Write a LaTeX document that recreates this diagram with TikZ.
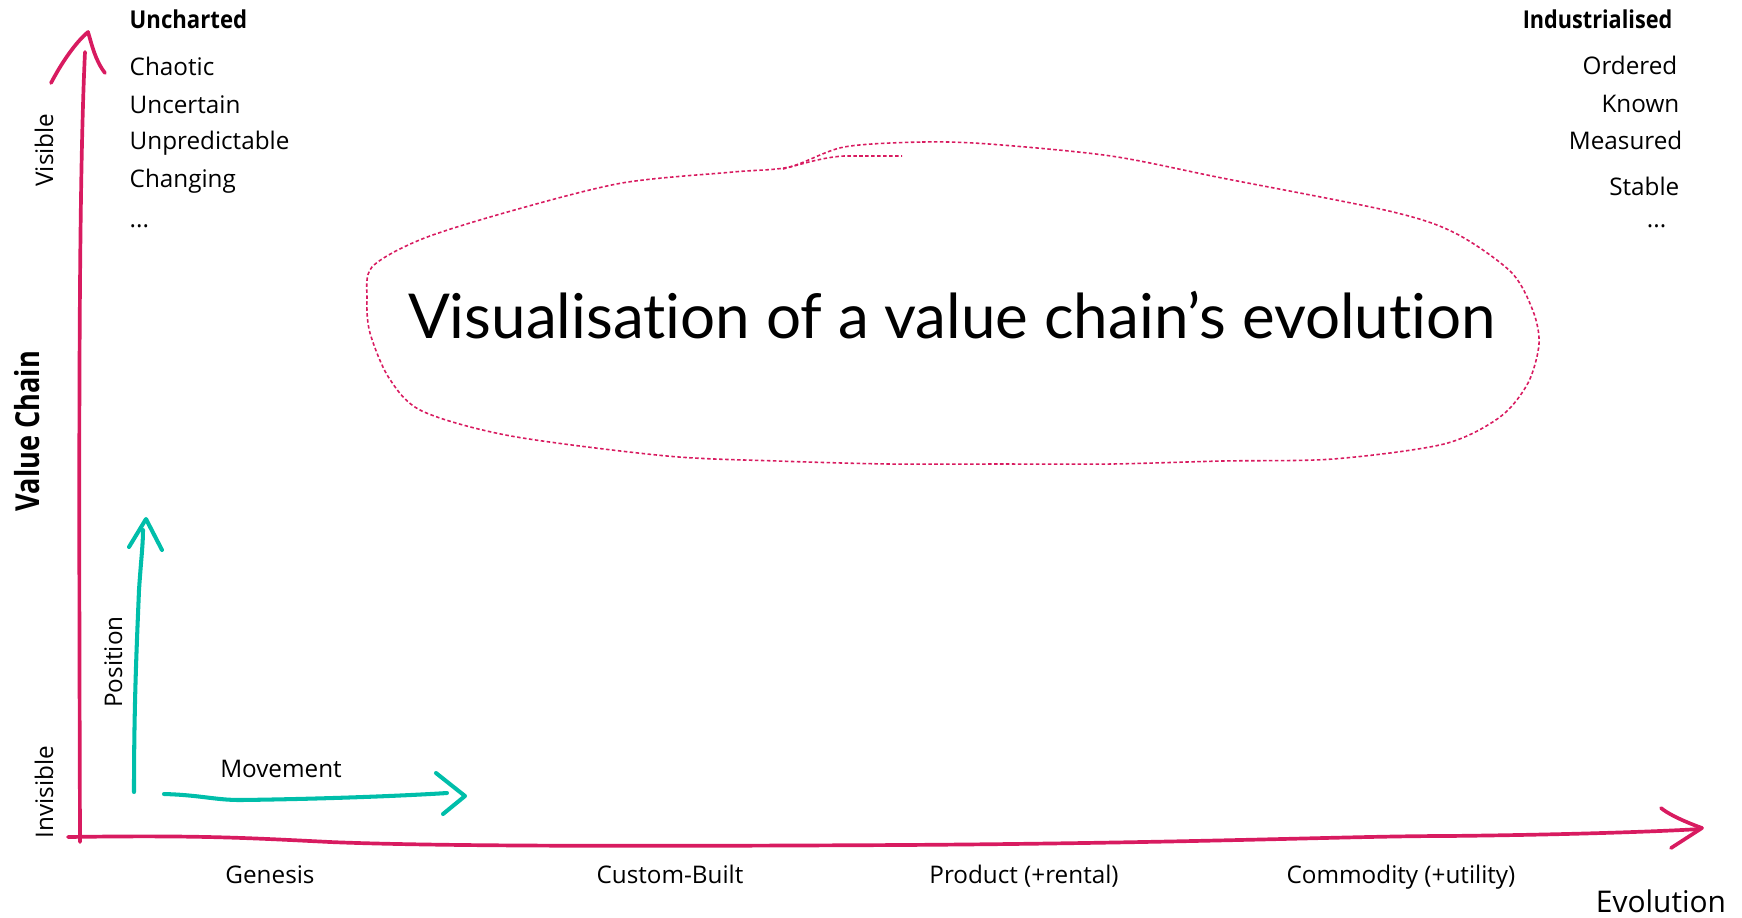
\documentclass[tikz,border=0pt]{standalone}
\usepackage{fontspec}
\setmainfont{Open Sans}
\newfontfamily\titlefont[Ligatures={NoCommon,NoRare,NoContextual}]{Lato}
\definecolor{axpink}{RGB}{216,27,96}
\definecolor{axteal}{RGB}{0,190,170}
\newcommand\narrowtext[2]{\scalebox{#1}[1]{#2}}
\begin{document}
\begin{tikzpicture}[x=0.01cm,y=-0.01cm,
  pinkline/.style={draw=axpink,line width=1.05pt,line cap=round,line join=round},
  tealline/.style={draw=axteal,line width=1.15pt,line cap=round,line join=round},
  blob/.style={draw=axpink,line width=0.45pt,dash pattern=on 1pt off 0.7pt},
  lbl/.style={inner sep=0pt,font=\fontsize{6.9}{9}\selectfont},
  hdr/.style={inner sep=0pt,font=\fontsize{7}{9}\selectfont\bfseries}]
\useasboundingbox (0,0) rectangle (1742,917);
% coordinates
\coordinate (vbot) at (80,842);
\coordinate (vtop) at (85,52);
\coordinate (vapex) at (88,32);
\coordinate (vl) at (51,83);
\coordinate (vr) at (105,73);
\coordinate (hstart) at (68,837);
\coordinate (hend) at (1700,829);
\coordinate (hapex) at (1702,828);
\coordinate (hu) at (1661,808);
\coordinate (hd) at (1671,848);
\coordinate (pbot) at (134,792);
\coordinate (ptop) at (143,530);
\coordinate (papex) at (146,519);
\coordinate (pl) at (129,547);
\coordinate (pr) at (162,550);
\coordinate (mstart) at (164,794);
\coordinate (mend) at (447,793);
\coordinate (mapex) at (465,796);
\coordinate (mu) at (436,773);
\coordinate (md) at (443,814);
% value chain axis
\draw[pinkline] (vbot) .. controls (79,500) and (78,200) .. (vtop);
\draw[pinkline] (vl) .. controls (62,62) and (76,42) .. (vapex) .. controls (92,45) and (95,60) .. (vr);
% evolution axis
\draw[pinkline] (hstart) .. controls (200,835) and (250,838) .. (330,842)
  .. controls (450,847) and (700,846) .. (900,845)
  .. controls (1200,843) and (1350,836) .. (1445,836)
  .. controls (1550,835) and (1650,832) .. (hend);
\draw[pinkline] (hu) .. controls (1667,813) and (1680,820) .. (hapex) -- (hd);
% position arrow
\draw[tealline] (pbot) .. controls (134,700) and (137,640) .. (139,590) .. controls (141,560) and (143,545) .. (ptop);
\draw[tealline] (pl) -- (papex) -- (pr);
% movement arrow
\draw[tealline] (mstart) .. controls (200,795) and (215,800) .. (240,800) .. controls (320,799) and (400,796) .. (mend);
\draw[tealline] (mu) -- (mapex) -- (md);
% dashed blob
\draw[blob] plot[smooth cycle,tension=0.5] coordinates {(844,147) (922,142) (989,144) (1111,156) (1222,178) (1389,211) (1455,233) (1511,272) (1533,311) (1539,344) (1528,383) (1500,417) (1444,444) (1333,459) (1222,461) (1111,464) (1000,464) (889,464) (778,461) (667,456) (511,436) (422,411) (389,378) (370,333) (367,300) (372,267) (422,239) (511,211) (622,183) (733,172) (789,167)};
\draw[blob] (783,169) .. controls (805,163) and (825,157) .. (844,156) -- (902,156);
% title
\node[inner sep=0pt,anchor=base,font=\titlefont\fontsize{17.6}{22}\selectfont] (title) at (952,338) {Visualisation of a value chain’s evolution};
% left texts
\node[hdr,anchor=base west] (unch) at (129,28) {\narrowtext{0.9}{Uncharted}};
\node[lbl,anchor=base west] (chao) at (129,75) {Chaotic};
\node[lbl,anchor=base west] (unce) at (129,113) {Uncertain};
\node[lbl,anchor=base west] (unpr) at (129,149) {Unpredictable};
\node[lbl,anchor=base west] (chan) at (129,187) {Changing};
\node[lbl,anchor=base west] (ldots) at (129,227) {...};
% right texts
\node[hdr,anchor=base east] (indu) at (1673,28) {\narrowtext{0.88}{Industrialised}};
\node[lbl,anchor=base east] (orde) at (1678,74) {Ordered};
\node[lbl,anchor=base east] (know) at (1680,112) {Known};
\node[lbl,anchor=base east] (meas) at (1683,149) {Measured};
\node[lbl,anchor=base east] (stab) at (1680,195) {Stable};
\node[lbl,anchor=base east] (rdots) at (1667,227) {...};
% axis labels
\node[lbl,rotate=90,anchor=base] (visi) at (53,150) {Visible};
\node[inner sep=0pt,rotate=90,anchor=base,font=\fontsize{9.4}{11}\selectfont\bfseries] (vch) at (39,431) {\narrowtext{0.82}{Value Chain}};
\node[lbl,rotate=90,anchor=base] (invi) at (53,792) {Invisible};
\node[lbl,rotate=90,anchor=base] (posi) at (122,662) {Position};
\node[lbl,anchor=base] (move) at (281,777) {Movement};
\node[lbl,anchor=base] (gene) at (270,883) {Genesis};
\node[lbl,anchor=base] (cust) at (670,883) {Custom-Built};
\node[lbl,anchor=base] (prod) at (1024,883) {Product (+rental)};
\node[lbl,anchor=base] (comm) at (1401,883) {Commodity (+utility)};
\node[inner sep=0pt,anchor=base,font=\fontsize{8.5}{10}\selectfont] (evol) at (1661,912) {Evolution};
\end{tikzpicture}
\end{document}
